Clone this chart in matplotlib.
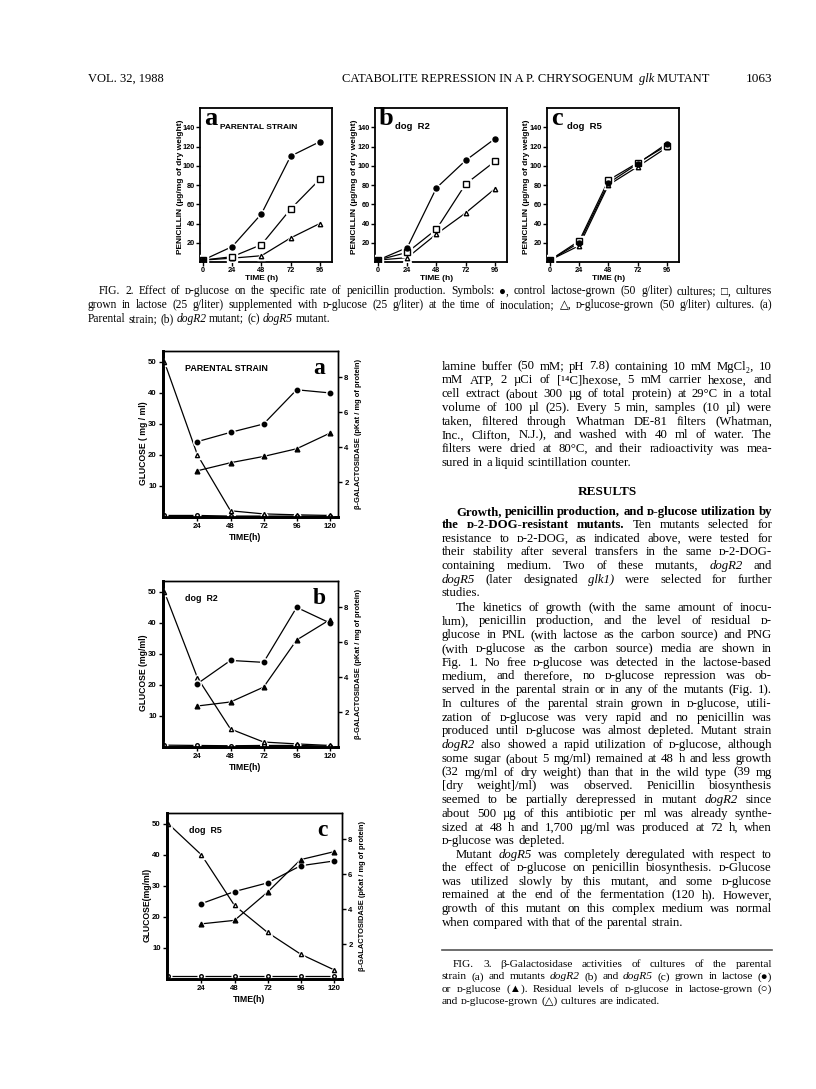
import matplotlib
matplotlib.use('Agg')
import matplotlib.pyplot as plt
from matplotlib.transforms import Affine2D

# ---- data: Fig. 2, penicillin (ug/mg dry weight) ----
hours2 = [0, 24, 48, 72, 96]
pen_a_lac = [2, 16, 50, 110, 125]
pen_a_mix = [2, 5.5, 18, 55, 86]
pen_a_glc = [2, 4, 6.5, 25, 40]
pen_b_lac = [2, 15, 77, 105.5, 128]
pen_b_mix = [2, 10, 34, 81, 104.5]
pen_b_glc = [2, 4.5, 29, 51, 76]
pen_c_lac = [2, 20, 82, 102, 123]
pen_c_mix = [2, 22, 85, 103, 121]
pen_c_glc = [2, 17, 80, 99, 119]

# ---- data: Fig. 3, glucose (mg/ml) and beta-galactosidase (pKat/mg protein) ----
hours3 = [0, 24, 48, 72, 96, 120]
hours3b = [24, 48, 72, 96, 120]
glc_a_lac = [0.5, 0.5, 0.3, 0.3, 0.3, 0.2]
glc_a_glc = [50, 20, 2, 1, 0.7, 0.5]
bgal_a_lac = [4.32, 4.85, 5.33, 7.29, 7.11]
bgal_a_glc = [2.65, 3.11, 3.47, 3.91, 4.8]
glc_b_lac = [0.6, 0.5, 0.4, 0.5, 0.5, 0.3]
glc_b_glc = [50, 22.3, 5.8, 1.6, 1.0, 0.5]
bgal_b_lac = [3.63, 4.96, 4.85, 8.0, 7.11]
bgal_b_glc = [2.35, 2.58, 3.43, 6.13, 7.29]
glc_c_lac = [1, 1, 1, 1, 1, 1]
glc_c_glc = [50, 40, 23.7, 15, 8, 3]
bgal_c_lac = [4.32, 5.01, 5.51, 6.49, 6.76]
bgal_c_glc = [3.16, 3.36, 4.98, 6.84, 7.29]

W, H = 816, 1089
fig = plt.figure(figsize=(W / 100, H / 100), dpi=100)
fig.patch.set_facecolor('white')
px = Affine2D().scale(1 / W, -1 / H).translate(0, 1) + fig.transFigure
renderer = fig.canvas.get_renderer()

SERIF = ['Liberation Serif', 'DejaVu Serif', 'DejaVu Sans']
SANS = ['Liberation Sans', 'DejaVu Sans']


def box(x0, y0, x1, y1):
    return fig.add_axes([x0 / W, 1 - y1 / H, (x1 - x0) / W, (y1 - y0) / H])


def series(ax, x, y, marker, ms, filled):
    ax.plot(x, y, color='black', lw=0.9, zorder=2)
    ax.plot(x, y, ls='none', marker=marker, ms=ms + 2.2, mfc='white', mec='white', zorder=3)
    ax.plot(x, y, ls='none', marker=marker, ms=ms, mfc='black' if filled else 'white',
            mec='black', mew=1.0, zorder=4)


def bold_ticks(ax, size):
    for lab in ax.get_xticklabels() + ax.get_yticklabels():
        lab.set_fontweight('bold')
        lab.set_family(SANS)
        lab.set_fontsize(size)


def ftext(x, y, s, **kw):
    kw.setdefault('transform', px)
    return fig.text(x, y, s, **kw)


# ---------------- Figure 2 ----------------
def fig2_panel(x0, letter, title, tsize, lac, mix, glc):
    ax = box(x0, 108, x0 + 132, 262)
    ax.set_xlim(-2.5, 106)
    ax.set_ylim(0, 160)
    series(ax, hours2, glc, '^', 3.2, False)
    series(ax, hours2, mix, 's', 4.3, False)
    series(ax, hours2, lac, 'o', 3.6, True)
    ax.set_xticks(hours2)
    ax.set_yticks([20, 40, 60, 80, 100, 120, 140])
    ax.tick_params(direction='out', length=3, width=1, pad=0.8)
    bold_ticks(ax, 5.3)
    for sp in ax.spines.values():
        sp.set_linewidth(1.3)
    ftext(x0 - 20, 187, 'PENICILLIN (µg/mg of dry weight)', rotation=90, ha='center',
          va='center', fontsize=6.0, fontweight='bold', family=SANS)
    ftext(x0 + 62, 278, 'TIME (h)', ha='center', va='center', fontsize=6.0,
          fontweight='bold', family=SANS)
    ftext(x0 + 4, 125, letter, fontsize=19, fontweight='bold', family=SERIF, va='baseline')
    ftext(x0 + 20, 129, title, fontsize=tsize, fontweight='bold', family=SANS, va='baseline')


fig2_panel(200, 'a', 'PARENTAL STRAIN', 6.0, pen_a_lac, pen_a_mix, pen_a_glc)
fig2_panel(375, 'b', 'dog  R2', 6.8, pen_b_lac, pen_b_mix, pen_b_glc)
fig2_panel(547, 'c', 'dog  R5', 6.8, pen_c_lac, pen_c_mix, pen_c_glc)


# ---------------- Figure 3 ----------------
def fig3_panel(x0, y0, letter, title, ylab, glac, gglc, blac, bglc):
    ax = box(x0, y0, x0 + 175, y0 + 166)
    ax.set_xlim(-1, 126)
    ax.set_ylim(0, 53.5)
    ax2 = ax.twinx()
    ax2.set_ylim(0, 53.5 / 5.625)
    series(ax, hours3, glac, 'o', 2.6, False)
    series(ax, hours3, gglc, '^', 3.0, False)
    series(ax2, hours3b, blac, 'o', 3.2, True)
    series(ax2, hours3b, bglc, '^', 3.4, True)
    ax.set_xticks([24, 48, 72, 96, 120])
    ax.set_yticks([10, 20, 30, 40, 50])
    ax2.set_yticks([2, 4, 6, 8])
    for a in (ax, ax2):
        a.tick_params(direction='out', length=3, width=1, pad=1.5)
        bold_ticks(a, 5.6)
        a.spines['left'].set_linewidth(2.0)
        a.spines['bottom'].set_linewidth(2.0)
        a.spines['top'].set_linewidth(1.0)
        a.spines['right'].set_linewidth(1.0)
    ftext(x0 - 20, y0 + 92, ylab, rotation=90, ha='center', va='center', fontsize=6.2,
          fontweight='bold', family=SANS)
    ftext(x0 + 195, y0 + 83, 'β-GALACTOSIDASE (pKat / mg of protein)', rotation=90,
          ha='center', va='center', fontsize=5.4, fontweight='bold', family=SANS)
    ftext(x0 + 82, y0 + 187, 'TIME(h)', ha='center', va='center', fontsize=6.3,
          fontweight='bold', family=SANS)
    ftext(x0 + 150, y0 + 23, letter, fontsize=17, fontweight='bold', family=SERIF, va='baseline')
    ftext(x0 + 22, y0 + 20, title, fontsize=6.4, fontweight='bold', family=SANS, va='baseline')


fig3_panel(163, 351, 'a', 'PARENTAL STRAIN', 'GLUCOSE ( mg / ml)',
           glc_a_lac, glc_a_glc, bgal_a_lac, bgal_a_glc)
fig3_panel(163, 581, 'b', 'dog  R2', 'GLUCOSE (mg/ml)',
           glc_b_lac, glc_b_glc, bgal_b_lac, bgal_b_glc)
fig3_panel(167, 813, 'c', 'dog  R5', 'GLUCOSE(mg/ml)',
           glc_c_lac, glc_c_glc, bgal_c_lac, bgal_c_glc)


# ---------------- page text ----------------
def put_line(text, x0, x1, yc, size, justify=True, indent=0):
    objs = []
    for w in text.split(' '):
        kw = dict(fontsize=size, family=SERIF, va='baseline', ha='left')
        if w.startswith('^'):
            w = w[1:]
            kw['fontweight'] = 'bold'
        elif w.startswith('_'):
            w = w[1:]
            kw['fontstyle'] = 'italic'
        objs.append(ftext(0, yc + size * 0.4, w, **kw))
    widths = [o.get_window_extent(renderer).width for o in objs]
    avail = x1 - x0 - indent
    gap = size * 100 / 72 * 0.25
    if justify and len(objs) > 1:
        min_gap = size * 100 / 72 * 0.17
        if sum(widths) + min_gap * (len(objs) - 1) > avail:
            f = (avail - min_gap * (len(objs) - 1)) / sum(widths)
            for o in objs:
                o.set_fontsize(size * f)
            widths = [o.get_window_extent(renderer).width for o in objs]
        gap = (avail - sum(widths)) / (len(objs) - 1)
    x = x0 + indent
    for o, w in zip(objs, widths):
        o.set_x(x)
        x += w + gap


def paragraph(lines, x0, x1, y_first, step, size, indent=0):
    for i, ln in enumerate(lines):
        last = i == len(lines) - 1
        put_line(ln, x0, x1, y_first + i * step, size, justify=not last,
                 indent=indent if i == 0 else 0)


# running head
ftext(88, 79, 'VOL. 32, 1988', fontsize=9, family=SERIF, va='center')
x = 342
for run, style in [('CATABOLITE REPRESSION IN A ', 'normal'), ('P. CHRYSOGENUM', 'normal'),
                   (' ', 'normal'), ('glk', 'italic'), (' MUTANT', 'normal')]:
    t = ftext(x, 79, run, fontsize=9, family=SERIF, fontstyle=style, va='center')
    x += t.get_window_extent(renderer).width
    if run == ' ':
        x += 2.5
ftext(772, 79, '1063', fontsize=9.5, family=SERIF, va='center', ha='right')

cap2 = [
    'FIG. 2. Effect of ᴅ-glucose on the specific rate of penicillin production. Symbols: ●, '
    'control lactose-grown (50 g/liter) cultures; □, cultures',
    'grown in lactose (25 g/liter) supplemented with ᴅ-glucose (25 g/liter) at the time of '
    'inoculation; △, ᴅ-glucose-grown (50 g/liter) cultures. (a)',
    'Parental strain; (b) _dogR2 mutant; (c) _dogR5 mutant.',
]
paragraph(cap2, 88, 772, 291, 13.8, 8.3, indent=11)

COL0, COL1 = 442, 772
BODY = 9.2
para1 = [
    'lamine buffer (50 mM; pH 7.8) containing 10 mM MgCl₂, 10',
    'mM ATP, 2 µCi of [¹⁴C]hexose, 5 mM carrier hexose, and',
    'cell extract (about 300 µg of total protein) at 29°C in a total',
    'volume of 100 µl (25). Every 5 min, samples (10 µl) were',
    'taken, filtered through Whatman DE-81 filters (Whatman,',
    'Inc., Clifton, N.J.), and washed with 40 ml of water. The',
    'filters were dried at 80°C, and their radioactivity was mea-',
    'sured in a liquid scintillation counter.',
]
paragraph(para1, COL0, COL1, 366, 13.75, BODY)

ftext((COL0 + COL1) / 2, 491 + 4, 'RESULTS', fontsize=BODY + 0.3, fontweight='bold',
      family=SERIF, ha='center', va='baseline')

para2 = [
    '^Growth, ^penicillin ^production, ^and ^ᴅ-glucose ^utilization ^by',
    '^the ^ᴅ-2-DOG-resistant ^mutants. Ten mutants selected for',
    'resistance to ᴅ-2-DOG, as indicated above, were tested for',
    'their stability after several transfers in the same ᴅ-2-DOG-',
    'containing medium. Two of these mutants, _dogR2 and',
    '_dogR5 (later designated _glk1) were selected for further',
    'studies.',
]
paragraph(para2, COL0, COL1, 511, 13.6, BODY, indent=14)

para3 = [
    'The kinetics of growth (with the same amount of inocu-',
    'lum), penicillin production, and the level of residual ᴅ-',
    'glucose in PNL (with lactose as the carbon source) and PNG',
    '(with ᴅ-glucose as the carbon source) media are shown in',
    'Fig. 1. No free ᴅ-glucose was detected in the lactose-based',
    'medium, and therefore, no ᴅ-glucose repression was ob-',
    'served in the parental strain or in any of the mutants (Fig. 1).',
    'In cultures of the parental strain grown in ᴅ-glucose, utili-',
    'zation of ᴅ-glucose was very rapid and no penicillin was',
    'produced until ᴅ-glucose was almost depleted. Mutant strain',
    '_dogR2 also showed a rapid utilization of ᴅ-glucose, although',
    'some sugar (about 5 mg/ml) remained at 48 h and less growth',
    '(32 mg/ml of dry weight) than that in the wild type (39 mg',
    '[dry weight]/ml) was observed. Penicillin biosynthesis',
    'seemed to be partially derepressed in mutant _dogR2 since',
    'about 500 µg of this antibiotic per ml was already synthe-',
    'sized at 48 h and 1,700 µg/ml was produced at 72 h, when',
    'ᴅ-glucose was depleted.',
]
paragraph(para3, COL0, COL1, 607, 13.75, BODY, indent=14)

para4 = [
    'Mutant _dogR5 was completely deregulated with respect to',
    'the effect of ᴅ-glucose on penicillin biosynthesis. ᴅ-Glucose',
    'was utilized slowly by this mutant, and some ᴅ-glucose',
    'remained at the end of the fermentation (120 h). However,',
    'growth of this mutant on this complex medium was normal',
    'when compared with that of the parental strain.',
]
paragraph(para4, COL0, COL1, 854, 13.6, BODY, indent=14)

fig.add_artist(plt.Line2D([COL0, COL1], [950, 950], transform=px, color='#555555', lw=1.2))

cap3 = [
    'FIG. 3. β-Galactosidase activities of cultures of the parental',
    'strain (a) and mutants _dogR2 (b) and _dogR5 (c) grown in lactose (●)',
    'or ᴅ-glucose (▲). Residual levels of ᴅ-glucose in lactose-grown (○)',
    'and ᴅ-glucose-grown (△) cultures are indicated.',
]
paragraph(cap3, COL0, COL1, 964, 12.2, 8.2, indent=11)

fig.savefig('out.png', dpi=100, facecolor='white')
